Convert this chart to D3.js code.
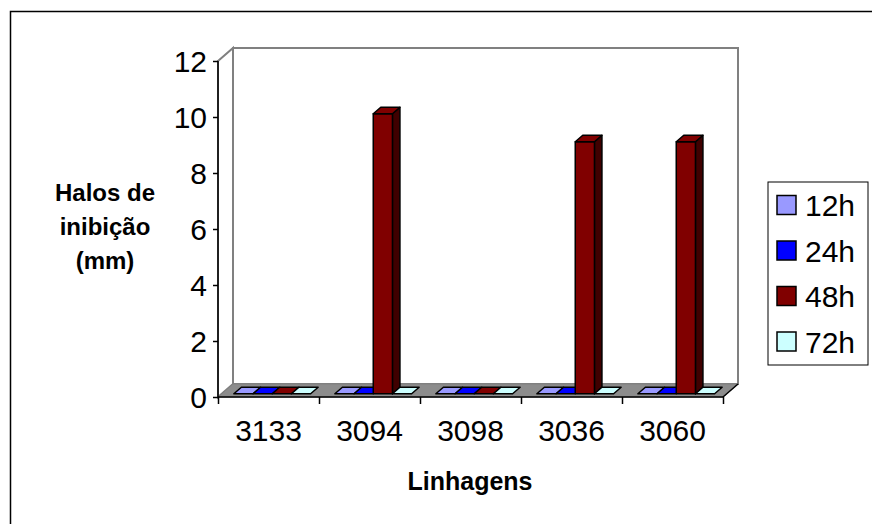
<!DOCTYPE html>
<html>
<head>
<meta charset="utf-8">
<script src="https://cdn.jsdelivr.net/npm/d3@7/dist/d3.min.js"></script>
<style>
  html, body { margin: 0; padding: 0; background: #fff; }
  svg { display: block; font-family: "Liberation Sans", Arial, sans-serif; }
</style>
</head>
<body>
<svg id="chart" width="872" height="524"></svg>
<script>
// ---- data ----
const categories = ["3133", "3094", "3098", "3036", "3060"];
const seriesNames = ["12h", "24h", "48h", "72h"];
const values12h = [0, 0, 0, 0, 0];
const values24h = [0, 0, 0, 0, 0];
const values48h = [0, 10, 0, 9, 9];
const values72h = [0, 0, 0, 0, 0];
const yTicks = [0, 2, 4, 6, 8, 10, 12];
const yTitleLines = ["Halos de", "inibição", "(mm)"];
const xTitle = "Linhagens";

const seriesValues = [values12h, values24h, values48h, values72h];
const fills = ["#9999ff", "#0000ff", "#800000", "#ccffff"];
const sides = ["#4d4d80", "#000080", "#400000", "#668080"];

const svg = d3.select("#chart");

// outer chart border
svg.append("rect").attr("x", 10.5).attr("y", 11.5).attr("width", 1000).attr("height", 1000)
  .attr("fill", "none").attr("stroke", "#000").attr("stroke-width", 1.5);

// geometry
const X0 = 218, X1 = 723, Y0 = 397, Y1 = 61;
const DX = 15, DY = -13; // depth offset
const x = d3.scaleBand().domain(categories).range([X0, X1]);
const y = d3.scaleLinear().domain([0, 12]).range([Y0, Y1]);
const xEdge = d3.scaleLinear().domain([0, categories.length]).range([X0, X1]);

// side wall
svg.append("path")
  .attr("d", `M${X0},${Y1} L${X0+DX},${Y1+DY} L${X0+DX},${Y0+DY} L${X0},${Y0} Z`)
  .attr("fill", "#fff").attr("stroke", "#808080").attr("stroke-width", 2);
// back wall
svg.append("path")
  .attr("d", `M${X0+DX},${Y1+DY} L${X1+DX},${Y1+DY} L${X1+DX},${Y0+DY} L${X0+DX},${Y0+DY} Z`)
  .attr("fill", "#fff").attr("stroke", "#808080").attr("stroke-width", 2);
// floor
svg.append("path")
  .attr("d", `M${X0},${Y0} L${X1},${Y0} L${X1+DX},${Y0+DY} L${X0+DX},${Y0+DY} Z`)
  .attr("fill", "#8c8c8c").attr("stroke", "#808080").attr("stroke-width", 1);

// bars
const band = x.bandwidth();
const w = band * 0.19;
const gap = (band - 4 * w) / 2;
const f0 = 0.25, fd = 0.5;
const sx = f0 * DX, sy = f0 * DY, bx = fd * DX, by = fd * DY;
const gBars = svg.append("g");
categories.forEach((c, i) => {
  seriesValues.forEach((vals, j) => {
    const v = vals[i];
    const xl = x(c) + gap + j * w + sx;
    const xr = xl + w;
    const yt = y(v) + sy;
    const yb = y(0) + sy;
    const g = gBars.append("g").attr("stroke", "#000").attr("stroke-width", 1.5).attr("stroke-linejoin", "round");
    if (v > 0) {
      g.append("path").attr("d", `M${xr},${yt} L${xr+bx},${yt+by} L${xr+bx},${yb+by} L${xr},${yb} Z`).attr("fill", sides[j]);
      g.append("path").attr("d", `M${xl},${yt} L${xr},${yt} L${xr},${yb} L${xl},${yb} Z`).attr("fill", fills[j]);
    }
    g.append("path").attr("d", `M${xl},${yt} L${xr},${yt} L${xr+bx},${yt+by} L${xl+bx},${yt+by} Z`).attr("fill", fills[j]);
  });
});

// y axis
const yAxis = svg.append("g").attr("transform", `translate(${X0},0)`)
  .call(d3.axisLeft(y).tickValues(yTicks).tickSize(5).tickPadding(6).tickFormat(d3.format("d")));
yAxis.select(".domain").attr("stroke", "#000").attr("stroke-width", 1.5).attr("d", `M0,${Y1}V${Y0}`);
yAxis.selectAll(".tick line").attr("stroke", "#000").attr("stroke-width", 1.5);
yAxis.selectAll(".tick text").attr("font-size", 30).attr("fill", "#000")
  .attr("font-family", "Liberation Sans, Arial, sans-serif").attr("dy", "0.36em");

// x axis: boundary ticks
const xTickAxis = svg.append("g").attr("transform", `translate(0,${Y0})`)
  .call(d3.axisBottom(xEdge).ticks(categories.length).tickSize(7).tickFormat(""));
xTickAxis.select(".domain").attr("stroke", "#000").attr("stroke-width", 1.5).attr("d", `M${X0},0H${X1}`);
xTickAxis.selectAll(".tick line").attr("stroke", "#000").attr("stroke-width", 1.5);
svg.append("line").attr("x1", X1).attr("y1", Y0).attr("x2", X1 + DX).attr("y2", Y0 + DY)
  .attr("stroke", "#000").attr("stroke-width", 1.5);

// x axis labels
const xLab = svg.append("g").attr("transform", `translate(0,${Y0})`)
  .call(d3.axisBottom(x).tickSize(0).tickPadding(0));
xLab.select(".domain").remove();
xLab.selectAll(".tick text").attr("font-size", 30).attr("fill", "#000")
  .attr("font-family", "Liberation Sans, Arial, sans-serif").attr("dy", null).attr("y", 44);

// y title
const yt = svg.append("text").attr("text-anchor", "middle").attr("font-weight", "bold")
  .attr("font-size", 24).attr("fill", "#000");
yTitleLines.forEach((t, k) => {
  yt.append("tspan").attr("x", 105).attr("y", 201 + k * 34).text(t);
});

// x title
svg.append("text").attr("x", 470).attr("y", 490).attr("text-anchor", "middle")
  .attr("font-weight", "bold").attr("font-size", 25).attr("fill", "#000").text(xTitle);

// legend
const lg = svg.append("g");
lg.append("rect").attr("x", 768).attr("y", 182).attr("width", 100).attr("height", 183)
  .attr("fill", "#fff").attr("stroke", "#000").attr("stroke-width", 1);
seriesNames.forEach((s, j) => {
  const cy = 205 + j * 45.5;
  lg.append("rect").attr("x", 777).attr("y", cy - 9.5).attr("width", 19).attr("height", 19)
    .attr("fill", fills[j]).attr("stroke", "#000").attr("stroke-width", 1.5);
  lg.append("text").attr("x", 805).attr("y", cy + 11).attr("font-size", 30).attr("fill", "#000").text(s);
});
</script>
</body>
</html>
